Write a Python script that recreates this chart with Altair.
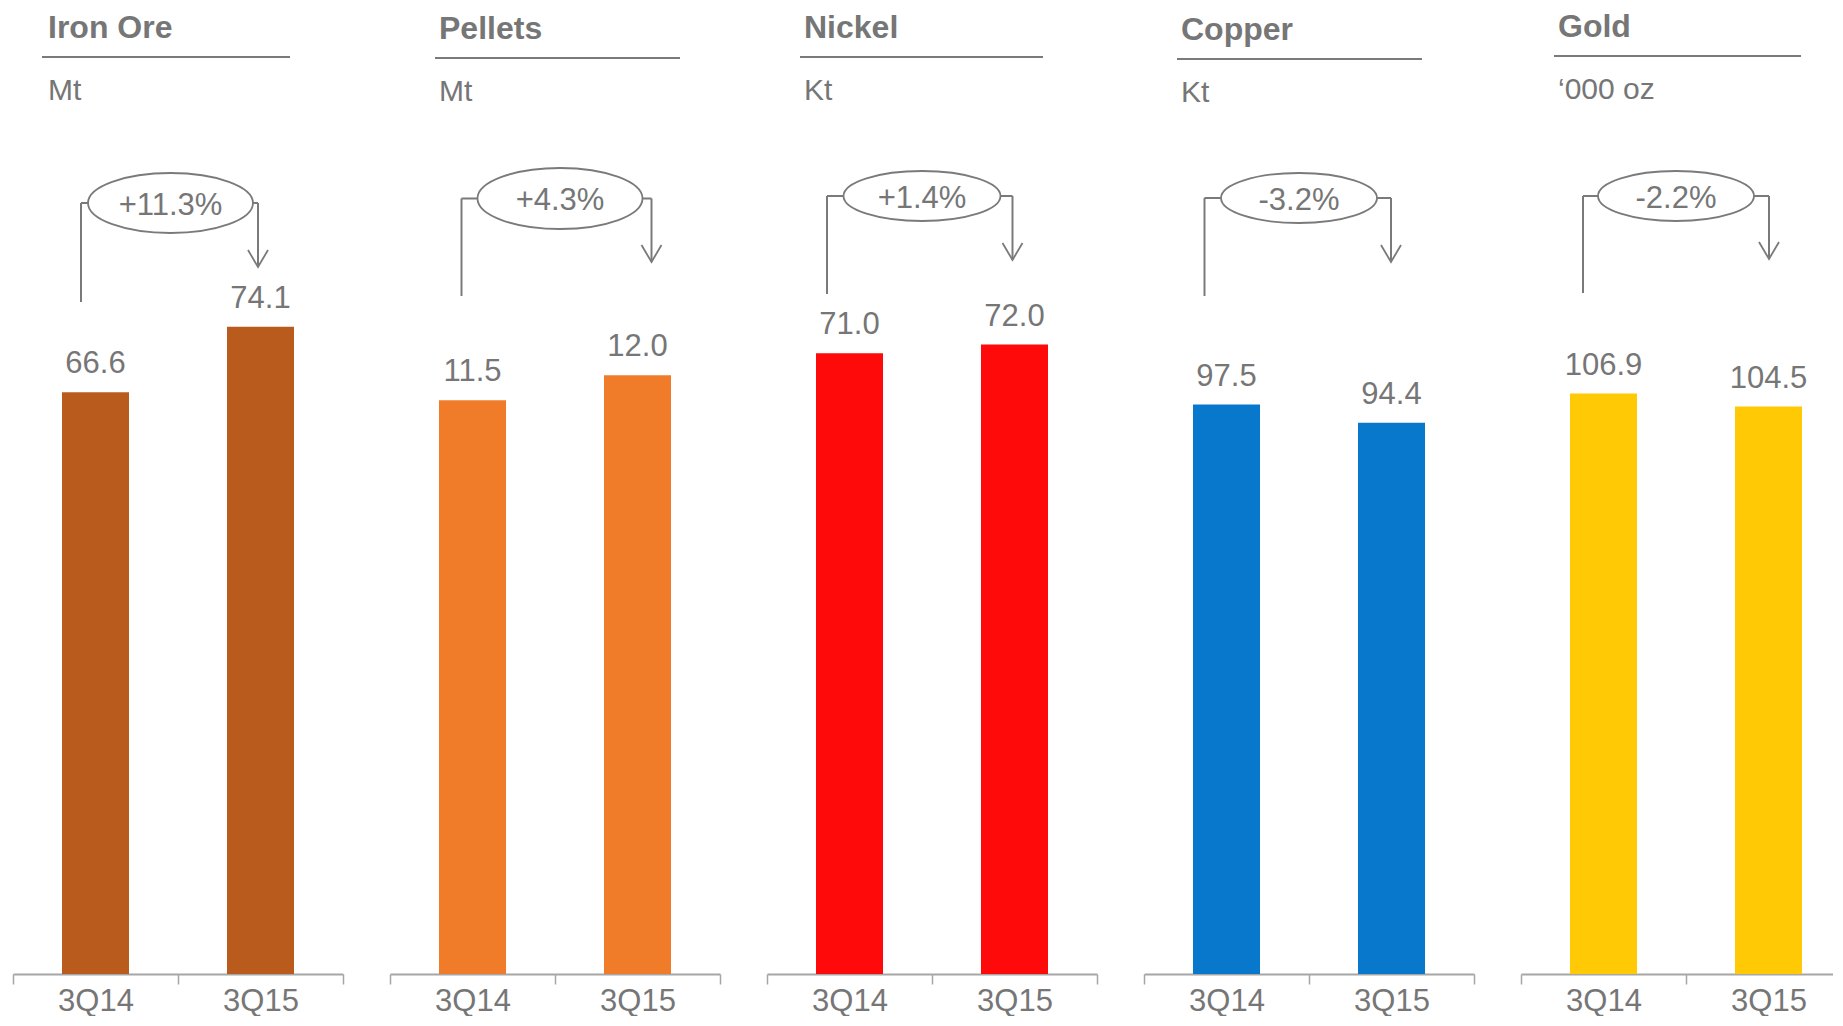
import altair as alt
import pandas as pd

# ---------------- data ----------------
products = ["Iron Ore", "Pellets", "Nickel", "Copper", "Gold"]
units = ["Mt", "Mt", "Kt", "Kt", "\u2018000 oz"]
periods = ["3Q14", "3Q15"]
values_3q14 = [66.6, 11.5, 71.0, 97.5, 106.9]
values_3q15 = [74.1, 12.0, 72.0, 94.4, 104.5]
changes = ["+11.3%", "+4.3%", "+1.4%", "-3.2%", "-2.2%"]
bar_colors = ["#B85B1C", "#F07C2A", "#FF0A0A", "#0878CC", "#FFC905"]

# top of each panel's own value scale
y_top = [110.6, 19.36, 110.5, 165.4, 177.9]

# ---------------- style ----------------
FONT = "Liberation Sans"
TEXT = "#767676"
LINE = "#7A7A7A"
AXIS = "#A6A6A6"
W, H = 330, 966
HALF_BAND = W / 4

title_x = [35, 49, 37, 37, 37]
rule_x = [(29, 277), (45, 290), (33, 276), (33, 278), (33, 280)]
head_dy = [0, 1, 0, 2, -1]
ell_y = [195, 190.5, 188, 190, 188]
left_bottom = [294, 288, 286, 288, 285]
tip_y = [259, 254, 252, 254, 251]
off_left = [-14.5, -11, -22.5, -22, -20.5]
off_ell = [-7.5, 5, -10, -10, -10]
off_right = [-2.5, 14, -2, -0.5, 0.5]
ell_w = [165, 165, 157, 156, 156]
ell_h = [60, 61, 50, 50, 50]

ARROW = "M -1 -0.85 L 0 0.85 L 1 -0.85"


def ellipse_path(r):
    k = 0.5523
    return (f"M -1 0 C -1 {-r*k:.4f} {-k} {-r:.4f} 0 {-r:.4f} "
            f"C {k} {-r:.4f} 1 {-r*k:.4f} 1 0 "
            f"C 1 {r*k:.4f} {k} {r:.4f} 0 {r:.4f} "
            f"C {-k} {r:.4f} -1 {r*k:.4f} -1 0 Z")


def panel(i):
    df = pd.DataFrame({
        "period": periods,
        "next": [periods[1], periods[1]],
        "value": [values_3q14[i], values_3q15[i]],
        "product": [products[i]] * 2,
        "unit": [units[i]] * 2,
        "change": [changes[i]] * 2,
    })
    base = alt.Chart(df)
    first = base.transform_filter(alt.datum.period == periods[0])
    second = base.transform_filter(alt.datum.period == periods[1])

    x = alt.X("period:N", title=None,
              scale=alt.Scale(domain=periods, paddingInner=0, paddingOuter=0),
              axis=alt.Axis(domainColor=AXIS, domainWidth=2, tickColor=AXIS,
                            tickWidth=1.5, tickSize=10, tickBand="extent",
                            labelFontSize=31, labelColor=TEXT, labelFont=FONT,
                            labelPadding=2, labelAngle=0, grid=False))
    y = alt.Y("value:Q", title=None, axis=None,
              scale=alt.Scale(domain=[0, y_top[i]], nice=False, zero=True))

    bars = base.mark_bar(size=67, color=bar_colors[i]).encode(x=x, y=y)
    vals = base.mark_text(baseline="alphabetic", dy=-19, fontSize=31, font=FONT,
                          color=TEXT).encode(
        x=x, y=y, text=alt.Text("value:Q", format=".1f"))

    d = head_dy[i]
    title = first.mark_text(align="left", baseline="alphabetic", fontSize=32,
                            fontWeight="bold", font=FONT, color=TEXT).encode(
        x=alt.value(title_x[i]), y=alt.value(30 + d), text="product:N")
    underline = first.mark_rule(color=LINE, strokeWidth=2).encode(
        x=alt.value(rule_x[i][0]), x2=alt.value(rule_x[i][1]), y=alt.value(49 + d))
    unit = first.mark_text(align="left", baseline="alphabetic", fontSize=30,
                           font=FONT, color=TEXT).encode(
        x=alt.value(title_x[i]), y=alt.value(92 + d), text="unit:N")

    left_v = first.mark_rule(color=LINE, strokeWidth=2, xOffset=off_left[i]).encode(
        x=x, y=alt.value(ell_y[i]), y2=alt.value(left_bottom[i]))
    right_v = second.mark_rule(color=LINE, strokeWidth=2, xOffset=off_right[i]).encode(
        x=x, y=alt.value(ell_y[i]), y2=alt.value(tip_y[i]))
    horiz = first.mark_rule(color=LINE, strokeWidth=2, xOffset=off_left[i],
                            x2Offset=off_right[i]).encode(
        x=x, x2="next:N", y=alt.value(ell_y[i]))
    ellipse = first.mark_point(shape=ellipse_path(ell_h[i] / ell_w[i]),
                               size=ell_w[i] ** 2, filled=True, fill="white",
                               stroke=LINE, strokeWidth=1.8, opacity=1,
                               xOffset=HALF_BAND + off_ell[i]).encode(
        x=x, y=alt.value(ell_y[i]))
    pct = first.mark_text(baseline="middle", dy=2.5, fontSize=31, font=FONT,
                          color=TEXT, xOffset=HALF_BAND + off_ell[i]).encode(
        x=x, y=alt.value(ell_y[i]), text="change:N")
    arrow = second.mark_point(shape=ARROW, size=400, filled=False, color=LINE,
                              stroke=LINE, strokeWidth=1.8, opacity=1,
                              xOffset=off_right[i]).encode(
        x=x, y=alt.value(tip_y[i] - 8.5))

    return alt.layer(bars, vals, title, underline, unit, left_v, right_v, horiz,
                     ellipse, pct, arrow).properties(width=W, height=H)


chart = alt.hconcat(*[panel(i) for i in range(len(products))],
                    spacing=47, bounds="flush").properties(
    padding={"left": 4, "top": 0, "right": -19, "bottom": 0},
    background="white",
).configure_view(strokeWidth=0, stroke="transparent")

chart.save("out.html", embed_options={"renderer": "svg", "actions": False})
